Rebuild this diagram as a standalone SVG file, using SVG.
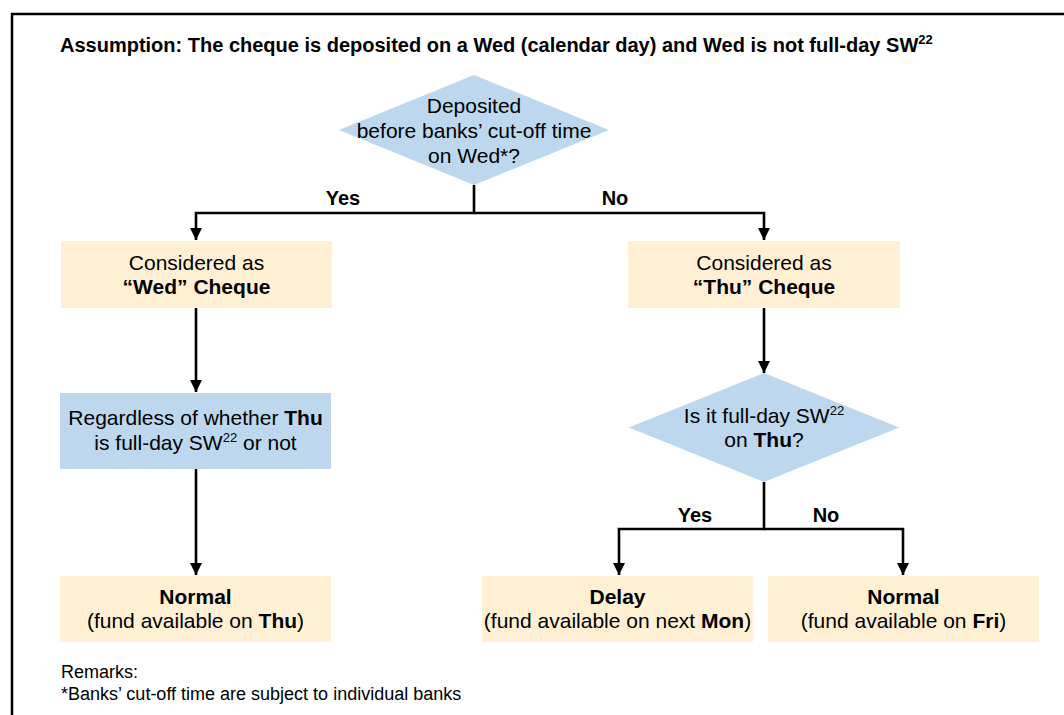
<svg xmlns="http://www.w3.org/2000/svg" width="1064" height="715" viewBox="0 0 1064 715">
  <defs>
    <style>
      text { font-family: "Liberation Sans", Arial, sans-serif; fill: #000; }
      .t { font-size: 21px; text-anchor: middle; }
      .b { font-weight: bold; }
      .lbl { font-size: 20px; font-weight: bold; text-anchor: middle; }
      .peach { fill: #FFF0D4; }
      .blue { fill: #BDD7EE; }
      .conn { fill: none; stroke: #000; stroke-width: 2.6; }
      .sup { font-size: 13px; }
    </style>
    <marker id="arr" viewBox="0 0 10 10" refX="10" refY="5" markerWidth="12" markerHeight="12" markerUnits="userSpaceOnUse" orient="auto">
      <path d="M0,0 L10,5 L0,10 z" fill="#000"/>
    </marker>
  </defs>
  <rect x="0" y="0" width="1064" height="715" fill="#fff"/>
  <rect x="12" y="14" width="1100" height="760" fill="none" stroke="#000" stroke-width="2.5"/>

  <text x="60" y="52" style="font-size:20px;font-weight:bold">Assumption: The cheque is deposited on a Wed (calendar day) and Wed is not full-day SW<tspan class="sup" dy="-8">22</tspan></text>

  <g id="connectors">
    <path class="conn" d="M474,185 V213 H196 V240" marker-end="url(#arr)"/>
    <path class="conn" d="M474,213 H764 V240" marker-end="url(#arr)"/>
    <path class="conn" d="M196,308 V392" marker-end="url(#arr)"/>
    <path class="conn" d="M196,469 V575" marker-end="url(#arr)"/>
    <path class="conn" d="M764,308 V373" marker-end="url(#arr)"/>
    <path class="conn" d="M764,482 V529 H619 V575" marker-end="url(#arr)"/>
    <path class="conn" d="M764,529 H903 V575" marker-end="url(#arr)"/>
    <text class="lbl" x="343" y="205">Yes</text>
    <text class="lbl" x="615" y="205">No</text>
    <text class="lbl" x="695" y="522">Yes</text>
    <text class="lbl" x="826" y="522">No</text>
  </g>

  <g id="q1">
    <polygon class="blue" points="474,75 609,130 474,185 339,130"/>
    <text class="t" x="474" y="113">Deposited</text>
    <text class="t" x="474" y="138">before banks’ cut-off time</text>
    <text class="t" x="474" y="163">on Wed*?</text>
  </g>

  <g id="wed">
    <rect class="peach" x="61" y="241" width="271" height="67"/>
    <text class="t" x="196.5" y="270">Considered as</text>
    <text class="t b" x="196.5" y="294">“Wed” Cheque</text>
  </g>

  <g id="thu">
    <rect class="peach" x="628" y="241" width="272" height="67"/>
    <text class="t" x="764" y="270">Considered as</text>
    <text class="t b" x="764" y="294">“Thu” Cheque</text>
  </g>

  <g id="regardless">
    <rect class="blue" x="60" y="393" width="271" height="76"/>
    <text class="t" x="195.5" y="425">Regardless of whether <tspan class="b">Thu</tspan></text>
    <text class="t" x="195.5" y="450">is full-day SW<tspan class="sup" dy="-8">22</tspan><tspan dy="8"> or not</tspan></text>
  </g>

  <g id="q2">
    <polygon class="blue" points="764,373 899,427.5 764,482 629,427.5"/>
    <text class="t" x="764" y="423">Is it full-day SW<tspan class="sup" dy="-8">22</tspan></text>
    <text class="t" x="764" y="447">on <tspan class="b">Thu</tspan>?</text>
  </g>

  <g id="normal-thu">
    <rect class="peach" x="60" y="576" width="271" height="66"/>
    <text class="t b" x="195.5" y="604">Normal</text>
    <text class="t" x="195.5" y="628">(fund available on <tspan class="b">Thu</tspan>)</text>
  </g>

  <g id="delay">
    <rect class="peach" x="482" y="576" width="271" height="66"/>
    <text class="t b" x="617.5" y="604">Delay</text>
    <text class="t" x="617.5" y="628">(fund available on next <tspan class="b">Mon</tspan>)</text>
  </g>

  <g id="normal-fri">
    <rect class="peach" x="768" y="576" width="271" height="66"/>
    <text class="t b" x="903.5" y="604">Normal</text>
    <text class="t" x="903.5" y="628">(fund available on <tspan class="b">Fri</tspan>)</text>
  </g>

  <g id="remarks">
    <text x="61" y="678" style="font-size:18px">Remarks:</text>
    <text x="61" y="700" style="font-size:18px">*Banks’ cut-off time are subject to individual banks</text>
  </g>
</svg>
